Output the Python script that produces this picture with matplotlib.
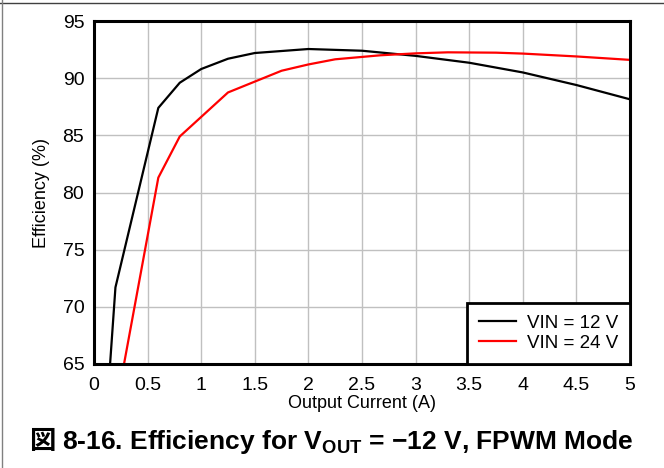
import matplotlib.pyplot as plt
from matplotlib.lines import Line2D

plt.rcParams['font.family'] = ['Liberation Sans', 'Noto Sans CJK JP']
plt.rcParams['mathtext.fontset'] = 'custom'
plt.rcParams['mathtext.rm'] = 'Liberation Sans'
plt.rcParams['mathtext.bf'] = 'Liberation Sans:bold'

# Efficiency curves
current_12v = [0.15, 0.2, 0.6, 0.8, 1.0, 1.25, 1.5, 2.0, 2.5, 3.0, 3.5, 4.0, 4.5, 5.0]
eff_12v = [65.0, 71.7, 87.4, 89.6, 90.8, 91.7, 92.2, 92.55, 92.4, 91.95, 91.35, 90.5, 89.4, 88.15]

current_24v = [0.28, 0.6, 0.8, 1.25, 1.5, 1.75, 2.0, 2.25, 2.67, 3.0, 3.3, 3.75, 4.0, 4.5, 5.0]
eff_24v = [65.0, 81.3, 84.9, 88.75, 89.7, 90.65, 91.2, 91.65, 92.0, 92.17, 92.26, 92.23, 92.15, 91.9, 91.6]

x_ticks = [0, 0.5, 1, 1.5, 2, 2.5, 3, 3.5, 4, 4.5, 5]
x_tick_labels = ['0', '0.5', '1', '1.5', '2', '2.5', '3', '3.5', '4', '4.5', '5']
y_ticks = [65, 70, 75, 80, 85, 90, 95]

fig = plt.figure(figsize=(6.64, 4.68), dpi=100)
ax = fig.add_axes([94 / 664, 1 - 364 / 468, (630 - 94) / 664, (364 - 21) / 468])

ax.plot(current_12v, eff_12v, color='black', lw=1.6, label='VIN = 12 V')
ax.plot(current_24v, eff_24v, color='#ff0000', lw=1.6, label='VIN = 24 V')

ax.set_xlim(0, 5)
ax.set_ylim(65, 95)
ax.set_xticks(x_ticks)
ax.set_xticklabels(x_tick_labels)
ax.set_yticks(y_ticks)
ax.tick_params(axis='x', length=0, labelsize=14, pad=9)
ax.tick_params(axis='y', length=0, labelsize=14, pad=7)
ax.grid(True, color='#c0c0c0', lw=1)
for s in ax.spines.values():
    s.set_linewidth(2.2)

ax.set_xlabel('Output Current (A)', fontsize=13, labelpad=1)
ax.set_ylabel('Efficiency (%)', fontsize=13, labelpad=9)

leg = ax.legend(loc='lower right', fontsize=13.5, fancybox=False, framealpha=1,
                edgecolor='black', borderaxespad=0, handlelength=2.0,
                labelspacing=0.15, borderpad=0.65, handletextpad=0.55)
leg.get_frame().set_linewidth(2)

# caption: CJK glyph drawn on its own, mathtext part placed right after it
t_fig = fig.text(29 / 664, 19 / 468, '図', fontsize=19, fontweight='bold',
                 family='Noto Sans CJK JP', ha='left', va='baseline')
fig.canvas.draw()
bb = t_fig.get_window_extent()
fig.text((bb.x1 + 7) / 664, 19 / 468,
         r'8-16. Efficiency for V$_{\mathbf{OUT}}$ = −12 V, FPWM Mode',
         fontsize=19, fontweight='bold', ha='left', va='baseline')

# outer frame lines (top and left)
fig.add_artist(Line2D([0, 1], [1 - 3 / 468, 1 - 3 / 468], transform=fig.transFigure,
                      color='#404040', lw=1))
fig.add_artist(Line2D([1.5 / 664, 1.5 / 664], [0, 1], transform=fig.transFigure,
                      color='#808080', lw=1))

fig.savefig('out.png', dpi=100)
